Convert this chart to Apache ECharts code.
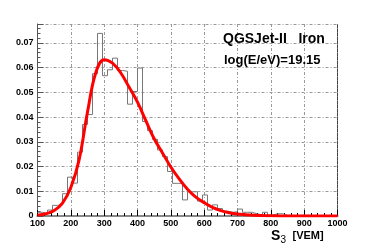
<!DOCTYPE html>
<html><head><meta charset="utf-8">
<script src="https://cdn.jsdelivr.net/npm/echarts@6/dist/echarts.min.js"></script>
<style>html,body{margin:0;padding:0;background:#fff}#c{width:382px;height:252px}</style>
</head><body><div id="c"></div>
<script>
// Histogram: 60 bins of width 15 from 100 to 1000
const binStart = 100;
const binWidth = 15;
const histValues = [
  0.0015, 0.0008, 0.0024, 0.0043, 0.0045, 0.0090, 0.0157, 0.0133, 0.0258, 0.0370,
  0.0410, 0.0575, 0.0738, 0.0567, 0.0591, 0.0638, 0.0588, 0.0585, 0.0452, 0.0503,
  0.0598, 0.0382, 0.0345, 0.0310, 0.0267, 0.0240, 0.0180, 0.0132, 0.0132, 0.0065,
  0.0098, 0.0098, 0.0060, 0.0085, 0.0024, 0.0045, 0.0030, 0.0020, 0.0015, 0.0017,
  0.0028, 0.0015, 0.0015, 0.0008, 0.0005, 0.0015, 0.0003, 0.0009, 0.0009, 0.0003,
  0.0002, 0.0002, 0.0003, 0.0003, 0.0002, 0.0001, 0.0001, 0.0001, 0.0001, 0.0000
];
// Fit curve read at sample points
const fitX = [100,125,150,175,200,225,250,275,300,325,350,375,400,425,450,475,500,525,550,575,600,625,650,675,700,750,800,850,900,1000];
const fitY = [0.0003,0.0009,0.0022,0.0052,0.0115,0.0228,0.0420,0.0580,0.0632,0.0618,0.0578,0.0520,0.0460,0.0385,0.0312,0.0255,0.0198,0.0150,0.0108,0.0076,0.0054,0.0035,0.0022,0.0013,0.0008,0.0003,0.0001,0,0,0];
const xTicks = [100,200,300,400,500,600,700,800,900,1000];

const histData = histValues.map((v,i)=>[binStart+i*binWidth, v]);
histData.push([binStart+histValues.length*binWidth, histValues[histValues.length-1]]);
const fitData = fitX.map((x,i)=>[x, fitY[i]]);

const chart = echarts.init(document.getElementById('c'), null, {renderer:'canvas'});
const F = 'Liberation Sans, Arial, sans-serif';
const gridDash = [3,2,1,2];
chart.setOption({
  animation:false,
  grid:{left:37.5, right:44.5, top:24, bottom:36, show:false},
  title:[
    {text:'QGSJet-II   Iron', left:218, top:27, textStyle:{fontFamily:F, fontWeight:'bold', fontSize:14, color:'#000'}},
    {text:'log(E/eV)=19.15', left:219, top:49, textStyle:{fontFamily:F, fontWeight:'bold', fontSize:13, color:'#000'}}
  ],
  graphic:[
    {type:'text', left:271, top:229, style:{text:'S', font:'bold 14px '+F, fill:'#000'}},
    {type:'text', left:280.5, top:235, style:{text:'3', font:'10px '+F, fill:'#000'}},
    {type:'text', left:292.5, top:230.5, style:{text:'[VEM]', font:'bold 11px '+F, fill:'#000'}}
  ],
  xAxis:[{
    type:'value', min:100, max:1000, interval:100,
    axisLine:{show:true, onZero:false, lineStyle:{color:'#000', width:1.5}},
    axisTick:{show:true, inside:true, length:6, lineStyle:{color:'#000'}},
    minorTick:{show:true, splitNumber:5, length:3, lineStyle:{color:'#000'}},
    axisLabel:{fontFamily:F, fontWeight:'bold', fontSize:9, color:'#000', margin:3,
      formatter:v=> xTicks.includes(v) ? String(v) : ''},
    splitLine:{show:true, lineStyle:{color:'#999', type:gridDash, width:1}}
  },{
    type:'value', min:100, max:1000, position:'top',
    axisLine:{show:true, lineStyle:{color:'#888', width:2}},
    axisTick:{show:false}, axisLabel:{show:false}, splitLine:{show:false}
  }],
  yAxis:[{
    type:'value', min:0, max:0.0776, interval:0.01,
    axisLine:{show:true, lineStyle:{color:'#555', width:1}},
    axisTick:{show:true, inside:true, length:6, lineStyle:{color:'#555'}},
    minorTick:{show:true, splitNumber:5, length:3, lineStyle:{color:'#555'}},
    axisLabel:{fontFamily:F, fontWeight:'bold', fontSize:9, color:'#000', margin:4, showMaxLabel:false,
      formatter:v=> v===0 ? '0' : v.toFixed(2)},
    splitLine:{show:true, lineStyle:{color:'#999', type:gridDash, width:1}}
  },{
    type:'value', min:0, max:0.0776, position:'right',
    axisLine:{show:true, lineStyle:{color:'#444', width:1, type:[3,1]}},
    axisTick:{show:false}, axisLabel:{show:false}, splitLine:{show:false}
  }],
  series:[{
    type:'line', data:histData, step:'end', symbol:'none',
    lineStyle:{color:'#777', width:1}, z:2
  },{
    type:'line', data:fitData, smooth:0.4, symbol:'none',
    lineStyle:{color:'#ff0000', width:3}, z:3
  }]
});
</script></body></html>
